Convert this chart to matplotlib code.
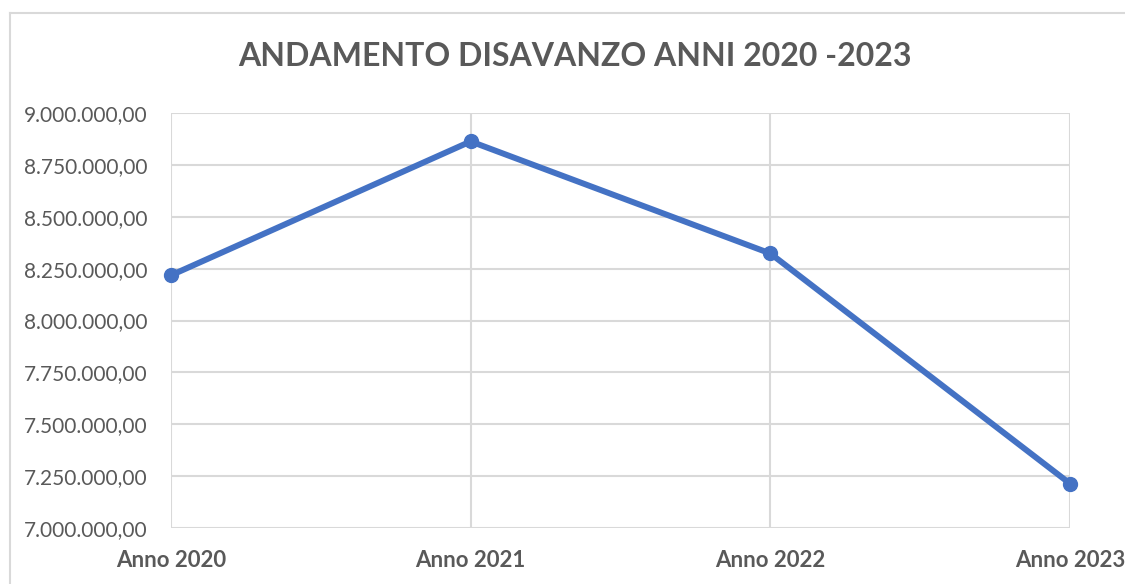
import matplotlib
matplotlib.use('Agg')
from matplotlib import pyplot as plt
from matplotlib.lines import Line2D
from matplotlib.ticker import FuncFormatter

anni = ['Anno 2020', 'Anno 2021', 'Anno 2022', 'Anno 2023']
disavanzo = [8218000, 8863000, 8323000, 7214000]
y_ticks = [7000000 + 250000 * i for i in range(9)]

plt.rcParams['font.family'] = ['Lato', 'DejaVu Sans']
grigio = '#595959'
blu = '#4472C4'

def fmt_it(v, pos=None):
    s = '{:,.2f}'.format(v)
    return s.replace(',', 'X').replace('.', ',').replace('X', '.')

fig = plt.figure(figsize=(11.25, 5.84), dpi=100)
ax = fig.add_axes([171/1125, 1-528/584, (1070-171)/1125, (528-113)/584])

x = list(range(len(anni)))
ax.plot(x, disavanzo, color=blu, lw=4.3, marker='o', ms=10, zorder=3,
        solid_capstyle='round', clip_on=False)

ax.set_xlim(0, 3)
ax.set_ylim(7000000, 9000000)
ax.set_yticks(y_ticks)
ax.yaxis.set_major_formatter(FuncFormatter(fmt_it))
ax.set_xticks(x)
ax.set_xticklabels(anni, fontweight='bold')

ax.grid(True, color='#D9D9D9', lw=1.5)
ax.set_axisbelow(True)
for s in ax.spines.values():
    s.set_visible(False)
ax.tick_params(axis='both', length=0, colors=grigio)
ax.tick_params(axis='y', pad=17, labelsize=15)
ax.tick_params(axis='x', pad=16, labelsize=16)

fig.text(575/1125, 1-57/584, 'ANDAMENTO DISAVANZO ANNI 2020 -2023', ha='center', va='center',
         fontsize=23, fontweight='bold', color=grigio)

# cornice del grafico
fig.add_artist(Line2D([10/1125, 10/1125], [0, 1-13/584], color='#D9D9D9', lw=1.5))
fig.add_artist(Line2D([10/1125, 1], [1-13/584, 1-13/584], color='#D9D9D9', lw=1.5))

fig.savefig('out.png', dpi=100)
